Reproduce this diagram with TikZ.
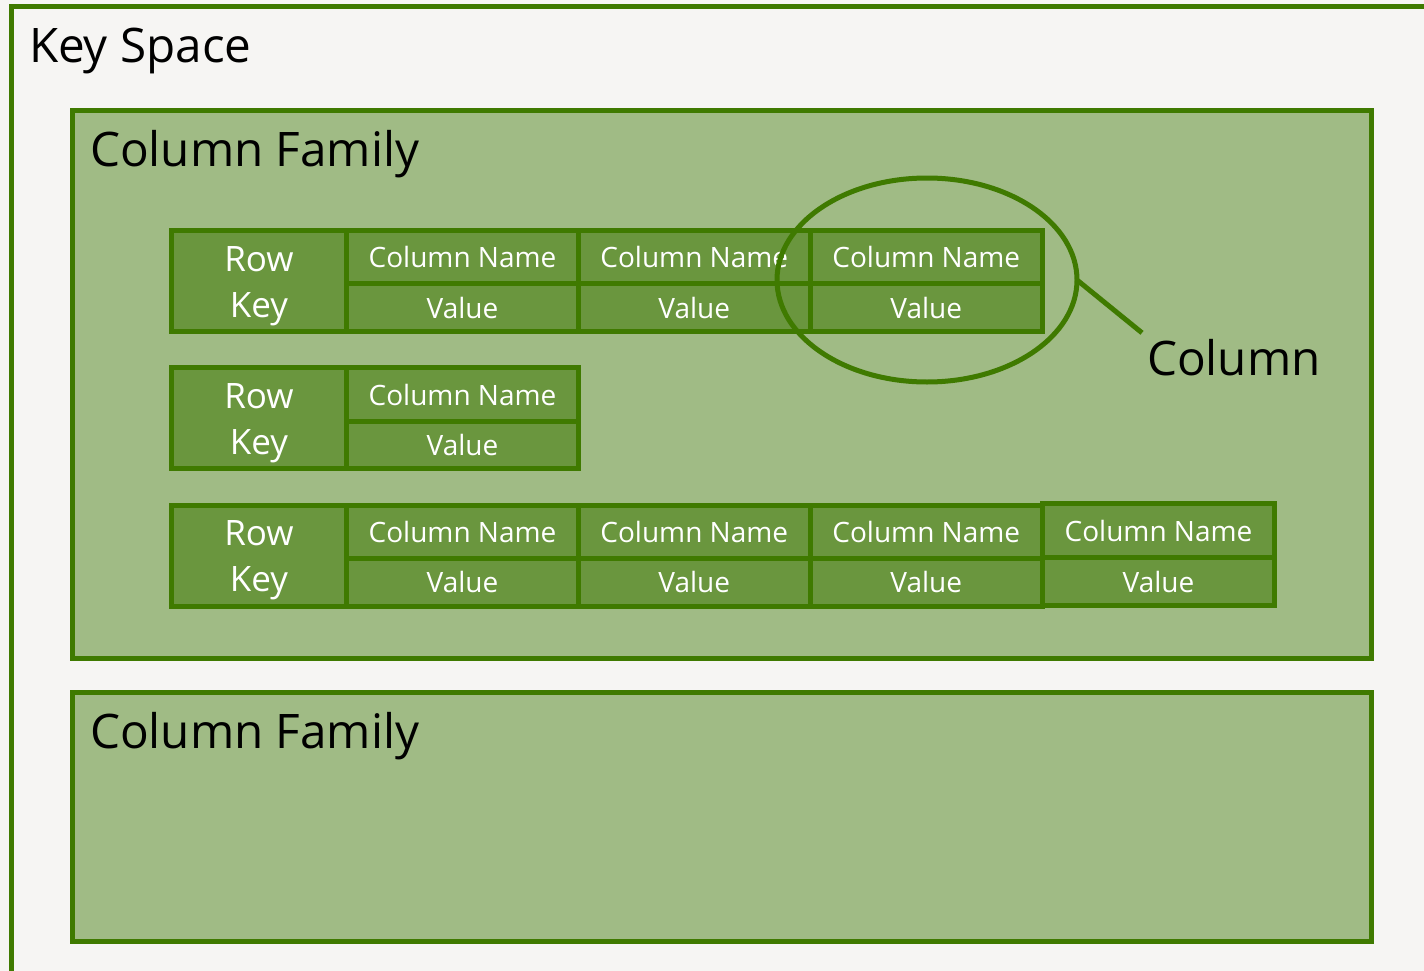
\documentclass[tikz,border=0pt]{standalone}
\usepackage{fontspec}
\setmainfont{Open Sans}
\usetikzlibrary{shapes.geometric}
\definecolor{bgc}{RGB}{246,245,243}
\definecolor{bgdark}{RGB}{222,222,220}
\definecolor{bordc}{RGB}{63,122,0}
\definecolor{cfc}{RGB}{160,187,133}
\definecolor{cellc}{RGB}{106,150,62}
\pgfdeclareradialshading{vign}{\pgfpoint{0bp}{0bp}}{color(0bp)=(bgc); color(38bp)=(bgc); color(50bp)=(bgdark)}
\newcommand{\rowkeytext}{\rule{0pt}{35pt}Row\\Key}
\tikzset{
  box/.style={draw=bordc, line width=5, rectangle, anchor=north west, inner sep=0, outer sep=0},
  family/.style={box, fill=cfc},
  cellbox/.style={draw=bordc, line width=5, rectangle, fill=cellc, text=white, inner sep=0, outer sep=0,
     anchor=north west, font=\fontsize{28}{32}\selectfont},
  rowkey/.style={cellbox, font=\fontsize{35}{46}\selectfont, align=center},
  title/.style={anchor=base west, inner sep=0, outer sep=0, font=\fontsize{47.6}{56}\selectfont, text=black},
}
\begin{document}
\begin{tikzpicture}[x=1pt,y=-1pt]
\useasboundingbox (0,0) rectangle (1424,971);
\clip (0,0) rectangle (1424,971);
\shade[shading=vign] (-338,-850) rectangle (1762,1250);
% key space
\node[box, minimum width=1489, minimum height=1093.5] (ks) at (11,6.5) {};
\node[title] (kst) at (29,63) {Key Space};
% column families
\node[family, minimum width=1299, minimum height=547.5] (cf1) at (72.5,110.5) {};
\node[title] (cf1t) at (90,167) {Column Family};
\node[family, minimum width=1299, minimum height=249] (cf2) at (72.5,692.5) {};
\node[title] (cf2t) at (90,748) {Column Family};
% row 1
\node[rowkey, minimum width=175, minimum height=101] (rk1) at (171.5,230.5) {\rowkeytext};
\node[cellbox, minimum width=232, minimum height=53] (n11) at (346.5,230.5) {Column Name};
\node[cellbox, minimum width=232, minimum height=48] (v11) at (346.5,283.5) {Value};
\node[cellbox, minimum width=231.5, minimum height=53] (n12) at (578.5,230.5) {Column Name};
\node[cellbox, minimum width=231.5, minimum height=48] (v12) at (578.5,283.5) {Value};
\node[cellbox, minimum width=232.5, minimum height=53] (n13) at (810,230.5) {Column Name};
\node[cellbox, minimum width=232.5, minimum height=48] (v13) at (810,283.5) {Value};
% row 2
\node[rowkey, minimum width=175, minimum height=101] (rk2) at (171.5,367.5) {\rowkeytext};
\node[cellbox, minimum width=232, minimum height=54] (n21) at (346.5,367.5) {Column Name};
\node[cellbox, minimum width=232, minimum height=47] (v21) at (346.5,421.5) {Value};
% row 3
\node[rowkey, minimum width=175, minimum height=101] (rk3) at (171.5,505) {\rowkeytext};
\node[cellbox, minimum width=232, minimum height=53] (n31) at (346.5,505) {Column Name};
\node[cellbox, minimum width=232, minimum height=48] (v31) at (346.5,558) {Value};
\node[cellbox, minimum width=231.5, minimum height=53] (n32) at (578.5,505) {Column Name};
\node[cellbox, minimum width=231.5, minimum height=48] (v32) at (578.5,558) {Value};
\node[cellbox, minimum width=232.5, minimum height=53] (n33) at (810,505) {Column Name};
\node[cellbox, minimum width=232.5, minimum height=48] (v33) at (810,558) {Value};
\node[cellbox, minimum width=232, minimum height=54] (n34) at (1042.5,503.5) {Column Name};
\node[cellbox, minimum width=232, minimum height=48] (v34) at (1042.5,557.5) {Value};
% column highlight
\node[ellipse, draw=bordc, line width=5, minimum width=300, minimum height=204, inner sep=0, outer sep=0] (col) at (927,280) {};
\node[title] (colt) at (1147,375) {Column};
\draw[draw=bordc, line width=5] (col.east) -- ([shift={(-5,-6)}]colt.north west);
\end{tikzpicture}
\end{document}
